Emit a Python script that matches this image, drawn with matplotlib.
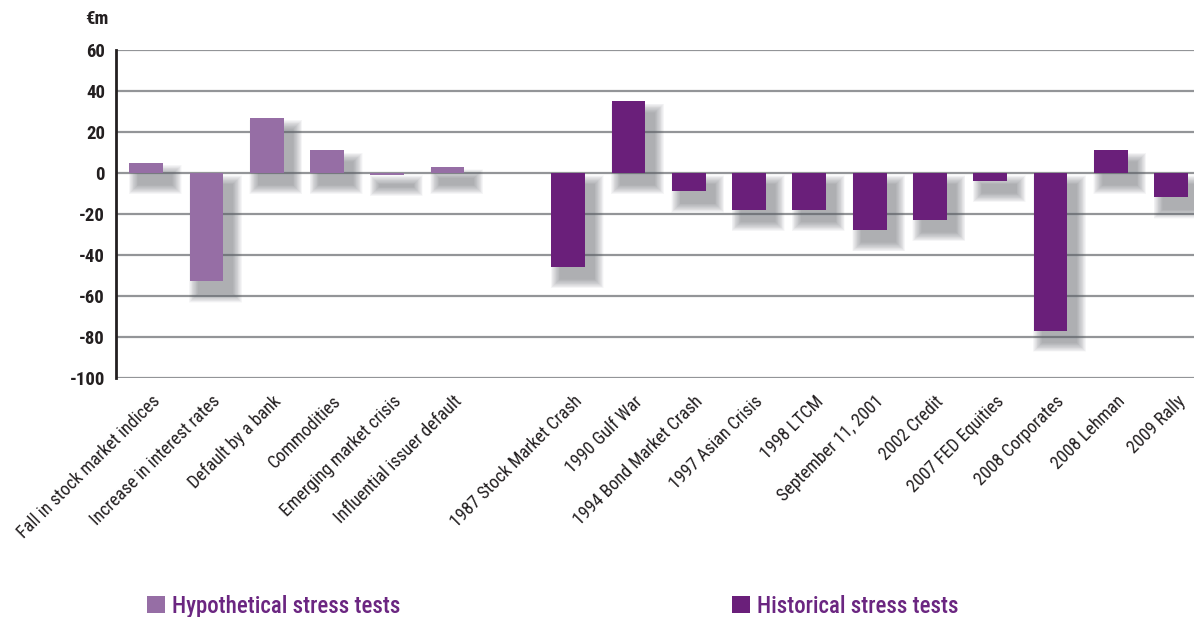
import matplotlib
matplotlib.use("Agg")
import matplotlib.pyplot as plt
from matplotlib.patches import Rectangle
from matplotlib.transforms import blended_transform_factory, ScaledTranslation
import numpy as np

# Stress-test results, €m
hypo_labels = ["Fall in stock market indices", "Increase in interest rates",
               "Default by a bank", "Commodities", "Emerging market crisis",
               "Influential issuer default"]
hypo_values = [5, -53, 27, 11, -1, 3]

hist_labels = ["1987 Stock Market Crash", "1990 Gulf War", "1994 Bond Market Crash",
               "1997 Asian Crisis", "1998 LTCM", "September 11, 2001", "2002 Credit",
               "2007 FED Equities", "2008 Corporates", "2008 Lehman", "2009 Rally"]
hist_values = [-46, 35, -9, -18, -18, -28, -23, -4, -77, 11, -12]

y_ticks = [60, 40, 20, 0, -20, -40, -60, -80, -100]

HYPO_COLOR = "#966ea5"
HIST_COLOR = "#6a1f7a"
LEGEND_TEXT = "#6b2681"
GRID_COLOR = "#939598"
TEXT_COLOR = "#231f20"

plt.rcParams["font.family"] = ["Roboto Condensed", "Roboto", "DejaVu Sans"]

W, H = 1194, 617
fig = plt.figure(figsize=(W / 100, H / 100), dpi=100)
ax = fig.add_axes([116 / W, 1 - 377.7 / H, 1 - 116 / W, (377.7 - 50) / H])

# one empty slot separates the two groups
hypo_x = np.arange(len(hypo_labels))
hist_x = np.arange(len(hist_labels)) + len(hypo_labels) + 1
width = 0.56

ax.set_ylim(-100, 60)
ax.set_xlim(-0.5, hist_x[-1] + 0.38)

for y in y_ticks:
    ax.axhline(y, color=GRID_COLOR, lw=1.6, zorder=1)


def soft_shadow(x, v):
    """Blurred drop shadow behind a bar, built from stacked translucent layers."""
    bottom, height = min(0, v), abs(v)
    shift = ScaledTranslation(6.5 / 72, -8.5 / 72, fig.dpi_scale_trans)
    steps = 22
    for k in range(steps):
        gx = 0.16 * (steps - k) / steps
        gy = 4.6 * (steps - k) / steps
        ax.add_patch(Rectangle((x - width / 2 - gx, bottom - gy),
                               width + 2 * gx, height + 2 * gy,
                               facecolor="#5f636b", edgecolor="none",
                               alpha=0.028, zorder=2,
                               transform=ax.transData + shift))


for x, v in zip(hypo_x, hypo_values):
    soft_shadow(x, v)
for x, v in zip(hist_x, hist_values):
    soft_shadow(x, v)

ax.bar(hypo_x, hypo_values, width=width, color=HYPO_COLOR, zorder=3)
ax.bar(hist_x, hist_values, width=width, color=HIST_COLOR, zorder=3)

ax.set_yticks(y_ticks)
ax.set_yticklabels([str(t) for t in y_ticks], fontsize=13.5, fontweight="bold",
                   color=TEXT_COLOR)
ax.tick_params(axis="y", length=0, pad=8)

# category labels, slanted, ending just under each bar
ax.set_xticks([])
lab_trans = blended_transform_factory(ax.transData, ax.transAxes)
for x, lab in zip(list(hypo_x) + list(hist_x), hypo_labels + hist_labels):
    ax.text(x + 0.08, -0.045, lab, transform=lab_trans, rotation=45,
            rotation_mode="anchor", ha="right", va="top", fontsize=13,
            color=TEXT_COLOR)

for side in ["top", "right", "bottom"]:
    ax.spines[side].set_visible(False)
ax.spines["left"].set_color(TEXT_COLOR)
ax.spines["left"].set_linewidth(2)
ax.spines["left"].set_zorder(4)

fig.text(108 / W, 1 - 19 / H, "€m", fontsize=13.5, fontweight="bold",
         color=TEXT_COLOR, ha="right", va="center")

# legend entries at the foot of the figure
for sx, label, col in [(147, "Hypothetical stress tests", HYPO_COLOR),
                       (732, "Historical stress tests", HIST_COLOR)]:
    fig.patches.append(Rectangle((sx / W, 1 - 613 / H), 18 / W, 17 / H,
                                 transform=fig.transFigure, facecolor=col,
                                 edgecolor="none"))
    fig.text((sx + 25) / W, 1 - 613 / H, label, fontsize=16.5,
             fontweight="medium", color=LEGEND_TEXT, ha="left", va="baseline")

fig.savefig("out.png", dpi=100, facecolor="white")
